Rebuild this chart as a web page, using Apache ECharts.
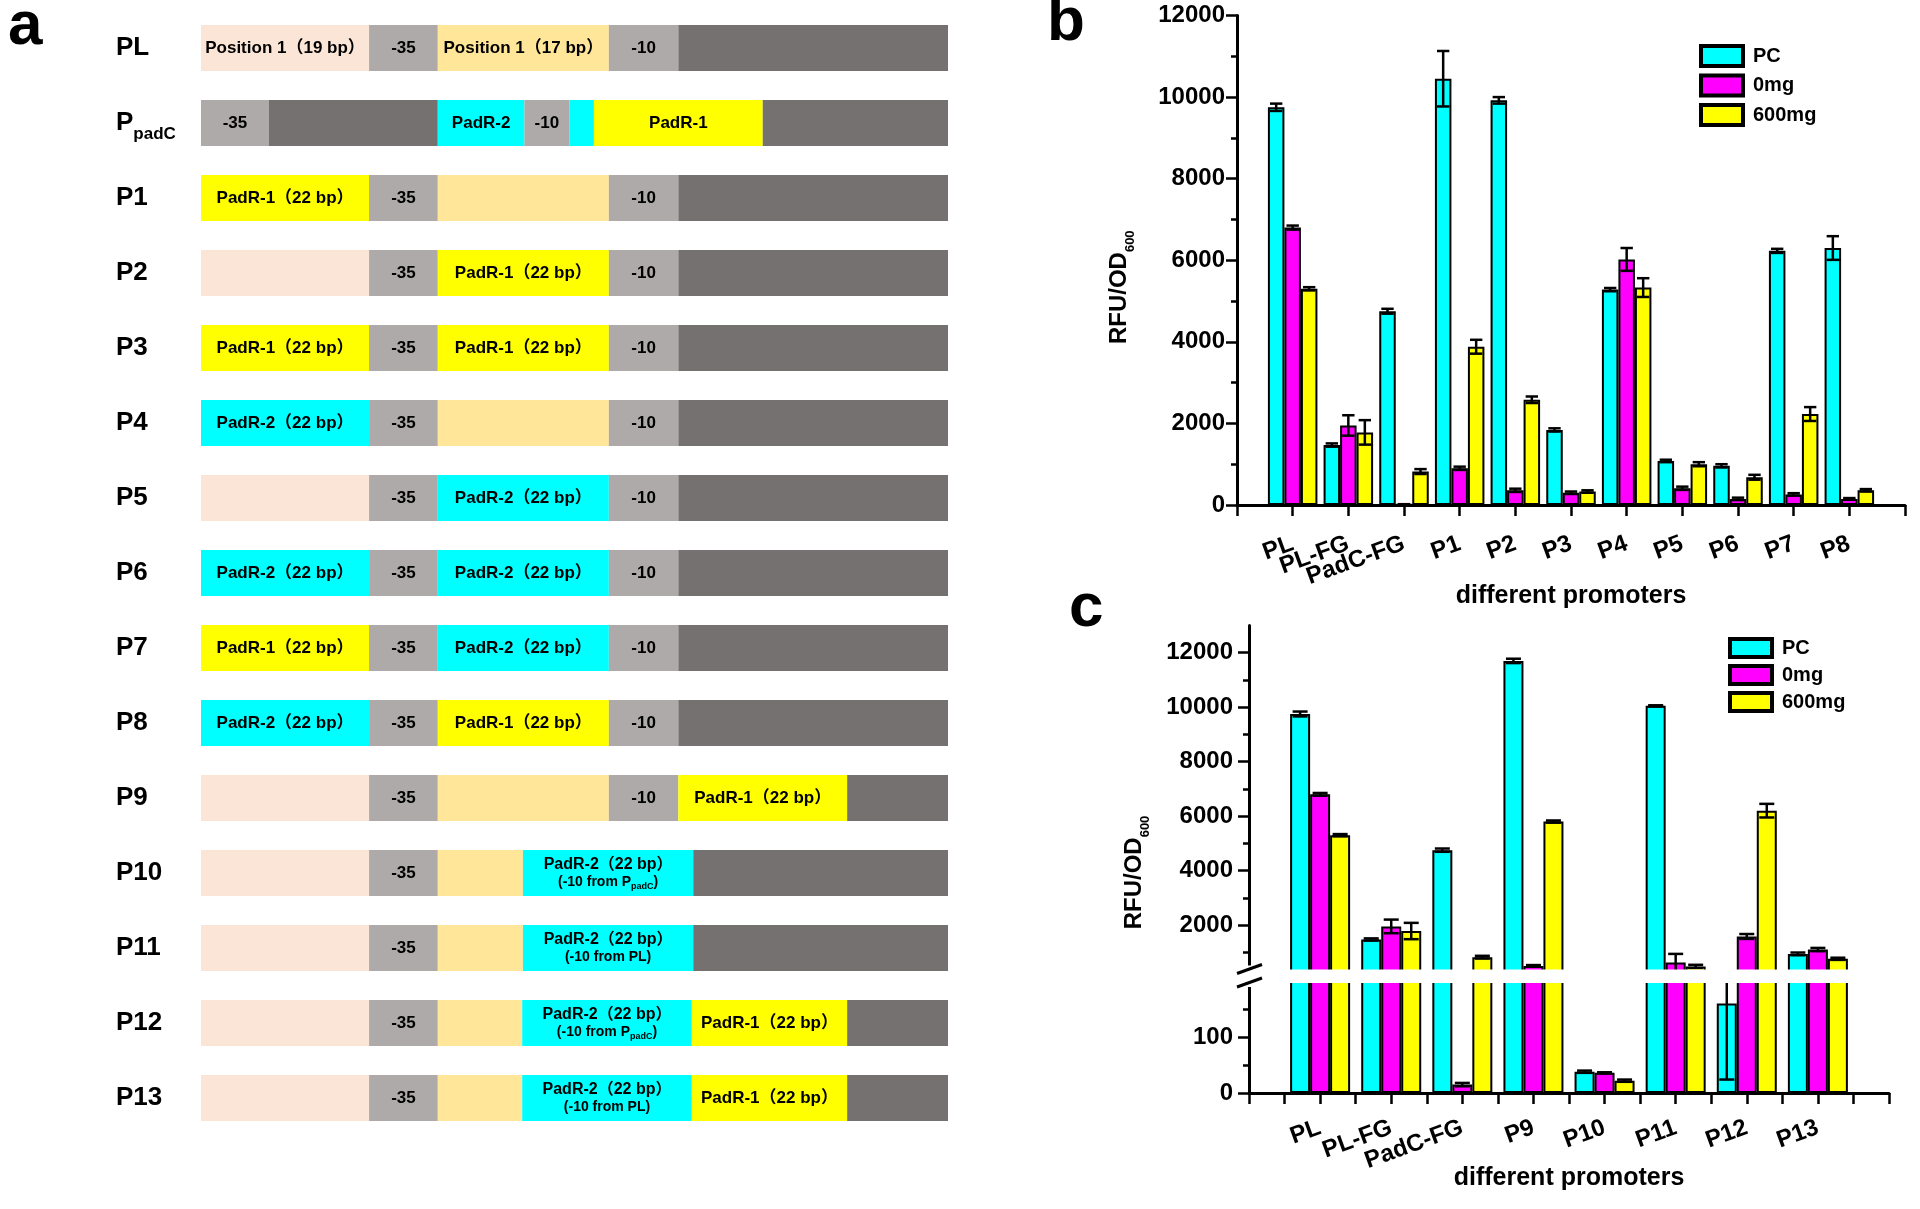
<!DOCTYPE html>
<html>
<head>
<meta charset="utf-8">
<script src="https://cdn.jsdelivr.net/npm/echarts@6.0.0/dist/echarts.min.js"></script>
<style>html,body{margin:0;padding:0;background:#fff;}#main{width:1920px;height:1209px;}</style>
</head>
<body>
<div id="main"></div>
<script>
// ===== Panel a: promoter architecture (track units 0-100) =====
const rowNames = ['PL','PpadC','P1','P2','P3','P4','P5','P6','P7','P8','P9','P10','P11','P12','P13'];
const R1 = 'PadR-1（22 bp）';
const R2 = 'PadR-2（22 bp）';
const R2fromPadC = '{t|PadR-2（22 bp）}\n{u|(-10 from P}{v|padC}{u|)}';
const R2fromPL = '{t|PadR-2（22 bp）}\n{u|(-10 from PL)}';
// [kind, start, end, label]
const segPL    = [['up',0,22.5,'Position 1（19 bp）'],['box',22.5,31.7,'-35'],['sp',31.7,54.6,'Position 1（17 bp）'],['box',54.6,63.9,'-10'],['dk',63.9,100,'']];
const segPpadC = [['box',0,9.1,'-35'],['dk',9.1,31.7,''],['R2',31.7,43.3,'PadR-2'],['box',43.3,49.3,'-10'],['R2',49.3,52.6,''],['R1',52.6,75.2,'PadR-1'],['dk',75.2,100,'']];
const segP1  = [['R1',0,22.5,R1],['box',22.5,31.7,'-35'],['sp',31.7,54.6,''],['box',54.6,63.9,'-10'],['dk',63.9,100,'']];
const segP2  = [['up',0,22.5,''],['box',22.5,31.7,'-35'],['R1',31.7,54.6,R1],['box',54.6,63.9,'-10'],['dk',63.9,100,'']];
const segP3  = [['R1',0,22.5,R1],['box',22.5,31.7,'-35'],['R1',31.7,54.6,R1],['box',54.6,63.9,'-10'],['dk',63.9,100,'']];
const segP4  = [['R2',0,22.5,R2],['box',22.5,31.7,'-35'],['sp',31.7,54.6,''],['box',54.6,63.9,'-10'],['dk',63.9,100,'']];
const segP5  = [['up',0,22.5,''],['box',22.5,31.7,'-35'],['R2',31.7,54.6,R2],['box',54.6,63.9,'-10'],['dk',63.9,100,'']];
const segP6  = [['R2',0,22.5,R2],['box',22.5,31.7,'-35'],['R2',31.7,54.6,R2],['box',54.6,63.9,'-10'],['dk',63.9,100,'']];
const segP7  = [['R1',0,22.5,R1],['box',22.5,31.7,'-35'],['R2',31.7,54.6,R2],['box',54.6,63.9,'-10'],['dk',63.9,100,'']];
const segP8  = [['R2',0,22.5,R2],['box',22.5,31.7,'-35'],['R1',31.7,54.6,R1],['box',54.6,63.9,'-10'],['dk',63.9,100,'']];
const segP9  = [['up',0,22.5,''],['box',22.5,31.7,'-35'],['sp',31.7,54.6,''],['box',54.6,63.9,'-10'],['R1',63.9,86.5,R1],['dk',86.5,100,'']];
const segP10 = [['up',0,22.5,''],['box',22.5,31.7,'-35'],['sp',31.7,43.1,''],['R2',43.1,65.9,R2fromPadC],['dk',65.9,100,'']];
const segP11 = [['up',0,22.5,''],['box',22.5,31.7,'-35'],['sp',31.7,43.1,''],['R2',43.1,65.9,R2fromPL],['dk',65.9,100,'']];
const segP12 = [['up',0,22.5,''],['box',22.5,31.7,'-35'],['sp',31.7,43.0,''],['R2',43.0,65.7,R2fromPadC],['R1',65.7,86.5,R1],['dk',86.5,100,'']];
const segP13 = [['up',0,22.5,''],['box',22.5,31.7,'-35'],['sp',31.7,43.0,''],['R2',43.0,65.7,R2fromPL],['R1',65.7,86.5,R1],['dk',86.5,100,'']];
const rowSegments = [segPL,segPpadC,segP1,segP2,segP3,segP4,segP5,segP6,segP7,segP8,segP9,segP10,segP11,segP12,segP13];

// ===== Panel b =====
const catsB     = ['PL','PL-FG','PadC-FG','P1','P2','P3','P4','P5','P6','P7','P8'];
const pcB       = [9750, 1470, 4750, 10450, 9920, 1840, 5280, 1080, 960, 6230, 6300];
const pcErrB    = [90, 40, 60, 680, 80, 40, 40, 30, 40, 50, 290];
const mg0B      = [6800, 1950, 15, 900, 360, 300, 6020, 410, 150, 260, 150];
const mg0ErrB   = [50, 250, 5, 40, 40, 30, 280, 40, 30, 30, 20];
const mg600B    = [5300, 1780, 820, 3880, 2580, 330, 5330, 1000, 680, 2230, 360];
const mg600ErrB = [40, 300, 60, 170, 80, 30, 230, 50, 60, 170, 30];

// ===== Panel c =====
const catsC     = ['PL','PL-FG','PadC-FG','P9','P10','P11','P12','P13'];
const pcC       = [9750, 1470, 4750, 11700, 38, 10050, 160, 940];
const pcErrC    = [90, 40, 60, 80, 2, 20, 136, 50];
const mg0C      = [6800, 1950, 15, 500, 36, 620, 1580, 1100];
const mg0ErrC   = [50, 250, 3, 30, 1, 320, 90, 60];
const mg600C    = [5300, 1780, 820, 5800, 22, 480, 6200, 760];
const mg600ErrC = [40, 300, 50, 40, 2, 60, 250, 40];

const ticksUpperC = [2000, 4000, 6000, 8000, 10000, 12000];
const minorUpperC = [1000, 3000, 5000, 7000, 9000, 11000];
const ticksLowerC = [0, 100];
const minorLowerC = [50, 150];

const seriesNames = ['PC', '0mg', '600mg'];

// ===== styles =====
const FF = "'Liberation Sans', Arial, Helvetica, 'Noto Sans CJK SC', sans-serif";
const kindColor = {up:'#fbe5d6', sp:'#ffe699', box:'#aeaaaa', dk:'#767171', R1:'#ffff00', R2:'#00ffff'};
const serColors = ['#00ffff', '#ff00ff', '#ffff00'];
const BW_B = 16.5, BW_C = 20;

const pad = arr => ['-'].concat(arr, ['-']);
const padCats = arr => [''].concat(arr, ['']);

const segFlat = [];
rowSegments.forEach((segs, r) => segs.forEach(s => segFlat.push({row:r, kind:s[0], start:s[1], end:s[2], label:s[3]})));

const axisLine = {show:true, onZero:false, lineStyle:{color:'#000', width:3}};
const axisTick = {show:true, length:11, lineStyle:{color:'#000', width:2.5}};
const tickLbl = {fontFamily:FF, fontWeight:'bold', fontSize:24, color:'#000', formatter: v => String(v)};
const catLbl = {fontFamily:FF, fontWeight:'bold', fontSize:24, color:'#000'};
const nameRich = {
  m:{fontFamily:FF, fontWeight:'bold', fontSize:24, lineHeight:36, color:'#000', verticalAlign:'middle'},
  s:{fontFamily:FF, fontWeight:'bold', fontSize:13, lineHeight:13, color:'#000', verticalAlign:'bottom'}
};

function barSeries(k, vals, xi, yi, bw) {
  return {type:'bar', name:seriesNames[k], xAxisIndex:xi, yAxisIndex:yi, data:pad(vals),
    barWidth:bw, barGap:'0%', itemStyle:{color:serColors[k], borderColor:'#000', borderWidth:2},
    emphasis:{disabled:true}, silent:true};
}
function errSeries(k, vals, errs, xi, yi, bw) {
  return {type:'custom', xAxisIndex:xi, yAxisIndex:yi, silent:true, z:5,
    data: vals.map((v,i)=>[i+1, v, errs[i]]), encode:{x:0, y:1},
    renderItem: function(params, api) {
      const cs = params.coordSys;
      const idx = api.value(0), v = api.value(1), e = api.value(2);
      const x = api.coord([idx, v])[0] + (k-1)*bw;
      const yt = api.coord([idx, v+e])[1], yb = api.coord([idx, v-e])[1];
      const top = cs.y, bot = cs.y + cs.height;
      const cap = bw*0.75;
      const st = {stroke:'#000', lineWidth:2.5};
      const ch = [];
      const y1 = Math.max(yt, top), y2 = Math.min(yb, bot);
      if (y2 > y1) ch.push({type:'line', shape:{x1:x, y1:y1, x2:x, y2:y2}, style:st});
      if (yt >= top && yt <= bot) ch.push({type:'line', shape:{x1:x-cap/2, y1:yt, x2:x+cap/2, y2:yt}, style:st});
      if (yb >= top && yb <= bot) ch.push({type:'line', shape:{x1:x-cap/2, y1:yb, x2:x+cap/2, y2:yb}, style:st});
      return {type:'group', children:ch};
    }};
}

const segSeries = {
  type:'custom', xAxisIndex:0, yAxisIndex:0, silent:true,
  data: segFlat.map(s => [s.start, s.row, s.end]), encode:{x:[0,2], y:1},
  renderItem: function(params, api) {
    const s = segFlat[params.dataIndex];
    const p0 = api.coord([api.value(0), api.value(1)]);
    const p1 = api.coord([api.value(2), api.value(1)]);
    const h = api.size([0,1])[1] * 0.615;
    const ch = [{type:'rect', shape:{x:p0[0], y:p0[1]-h/2, width:p1[0]-p0[0], height:h}, style:{fill:kindColor[s.kind]}}];
    if (s.label) ch.push({type:'text', x:(p0[0]+p1[0])/2, y:p0[1], style:{
      text:s.label, align:'center', verticalAlign:'middle', fill:'#000',
      fontFamily:FF, fontWeight:'bold', fontSize:17,
      rich:{
        t:{fontFamily:FF, fontWeight:'bold', fontSize:16, lineHeight:19, fill:'#000'},
        u:{fontFamily:FF, fontWeight:'bold', fontSize:14, lineHeight:17, fill:'#000', verticalAlign:'middle'},
        v:{fontFamily:FF, fontWeight:'bold', fontSize:9, lineHeight:9, fill:'#000', verticalAlign:'bottom'}
      }}});
    return {type:'group', children:ch};
  }
};

const legendCommon = {orient:'vertical', icon:'rect', padding:0, data:seriesNames,
  selectedMode:false, itemStyle:{borderColor:'#000', borderWidth:4},
  textStyle:{fontFamily:FF, fontWeight:'bold', fontSize:20, color:'#000', padding:[0,0,0,5]}};

const option = {
  animation:false,
  backgroundColor:'#fff',
  grid:[
    {left:201, top:10.5, width:747, height:1125, outerBoundsMode:'none'},
    {left:1237, top:15.5, width:668, height:489.5, outerBoundsMode:'none'},
    {left:1249, top:625.5, width:640, height:354, outerBoundsMode:'none'},
    {left:1249, top:981, width:640, height:112, outerBoundsMode:'none'}
  ],
  xAxis:[
    {gridIndex:0, type:'value', min:0, max:100, show:false},
    {gridIndex:1, type:'category', position:'bottom', data:padCats(catsB), boundaryGap:false, axisLine:axisLine,
      axisTick:Object.assign({interval:0}, axisTick),
      axisLabel:Object.assign({interval:0, rotate:20, margin:38}, catLbl),
      name:'different promoters', nameLocation:'middle', nameGap:79, nameMoveOverlap:false,
      nameTextStyle:{fontFamily:FF, fontWeight:'bold', fontSize:25, color:'#000'}},
    {gridIndex:2, type:'category', position:'bottom', data:padCats(catsC), boundaryGap:false, show:false},
    {gridIndex:3, type:'category', position:'bottom', data:padCats(catsC), boundaryGap:false, axisLine:axisLine,
      axisTick:Object.assign({interval:0}, axisTick),
      axisLabel:Object.assign({interval:0, rotate:20, margin:34}, catLbl),
      name:'different promoters', nameLocation:'middle', nameGap:73, nameMoveOverlap:false,
      nameTextStyle:{fontFamily:FF, fontWeight:'bold', fontSize:25, color:'#000'}},
    {gridIndex:3, type:'value', position:'bottom', offset:0, min:0, max:9, interval:0.5, axisLine:{show:false},
      axisTick:axisTick, axisLabel:{show:false}, splitLine:{show:false}}
  ],
  yAxis:[
    {gridIndex:0, type:'category', data:rowNames, inverse:true, axisLine:{show:false}, axisTick:{show:false},
      axisLabel:{align:'left', margin:85,
        formatter: v => v === 'PpadC' ? '{m|P}{s|padC}' : '{m|' + v + '}',
        rich:{
          m:{fontFamily:FF, fontWeight:'bold', fontSize:26, lineHeight:40, color:'#000', verticalAlign:'middle'},
          s:{fontFamily:FF, fontWeight:'bold', fontSize:17, lineHeight:17, color:'#000', verticalAlign:'bottom'}
        }}},
    {gridIndex:1, type:'value', position:'left', min:0, max:12000, interval:2000, axisLine:axisLine, axisTick:axisTick,
      minorTick:{show:true, splitNumber:2, length:6, lineStyle:{color:'#000', width:2.5}},
      splitLine:{show:false}, minorSplitLine:{show:false},
      axisLabel:Object.assign({margin:12}, tickLbl),
      name:'{m|RFU/OD}{s|600}', nameLocation:'middle', nameGap:100, nameMoveOverlap:false,
      nameTextStyle:{rich:nameRich, padding:[0,54,0,0]}},
    {gridIndex:2, type:'value', position:'left', offset:0, min:0, max:13000, axisLine:axisLine,
      axisTick:Object.assign({customValues:ticksUpperC}, axisTick),
      axisLabel:Object.assign({margin:16, customValues:ticksUpperC}, tickLbl),
      splitLine:{show:false},
      name:'{m|RFU/OD}{s|600}', nameLocation:'middle', nameGap:97, nameMoveOverlap:false,
      nameTextStyle:{rich:nameRich, padding:[0,140,0,0]}},
    {gridIndex:2, type:'value', position:'left', offset:0, min:0, max:13000, axisLine:{show:false},
      axisTick:{show:true, length:6, customValues:minorUpperC, lineStyle:{color:'#000', width:2.5}},
      axisLabel:{show:false}, splitLine:{show:false}},
    {gridIndex:3, type:'value', position:'left', offset:0, min:0, max:200, axisLine:axisLine,
      axisTick:Object.assign({customValues:ticksLowerC}, axisTick),
      axisLabel:Object.assign({margin:16, customValues:ticksLowerC}, tickLbl),
      splitLine:{show:false}},
    {gridIndex:3, type:'value', position:'left', offset:0, min:0, max:200, axisLine:{show:false},
      axisTick:{show:true, length:6, customValues:minorLowerC, lineStyle:{color:'#000', width:2.5}},
      axisLabel:{show:false}, splitLine:{show:false}}
  ],
  legend:[
    Object.assign({left:1699, top:44, itemWidth:42, itemHeight:20, itemGap:5.5}, legendCommon),
    Object.assign({left:1728, top:637, itemWidth:42, itemHeight:18, itemGap:5}, legendCommon)
  ],
  series:[
    segSeries,
    barSeries(0, pcB, 1, 1, BW_B), barSeries(1, mg0B, 1, 1, BW_B), barSeries(2, mg600B, 1, 1, BW_B),
    errSeries(0, pcB, pcErrB, 1, 1, BW_B), errSeries(1, mg0B, mg0ErrB, 1, 1, BW_B), errSeries(2, mg600B, mg600ErrB, 1, 1, BW_B),
    barSeries(0, pcC, 2, 2, BW_C), barSeries(1, mg0C, 2, 2, BW_C), barSeries(2, mg600C, 2, 2, BW_C),
    errSeries(0, pcC, pcErrC, 2, 2, BW_C), errSeries(1, mg0C, mg0ErrC, 2, 2, BW_C), errSeries(2, mg600C, mg600ErrC, 2, 2, BW_C),
    barSeries(0, pcC, 3, 4, BW_C), barSeries(1, mg0C, 3, 4, BW_C), barSeries(2, mg600C, 3, 4, BW_C),
    errSeries(0, pcC, pcErrC, 3, 4, BW_C), errSeries(1, mg0C, mg0ErrC, 3, 4, BW_C), errSeries(2, mg600C, mg600ErrC, 3, 4, BW_C)
  ]
};

const chart = echarts.init(document.getElementById('main'), null, {renderer:'canvas'});
chart.setOption(option);

// axis break for panel c, located through the axes
const zeroUpper = chart.convertToPixel({xAxisIndex:2, yAxisIndex:2}, [1, 0]);
const topLower = chart.convertToPixel({xAxisIndex:3, yAxisIndex:4}, [1, 200]);
const axisX = chart.convertToPixel({xAxisIndex:3, yAxisIndex:4}, [0, 0])[0];
const endX = chart.convertToPixel({xAxisIndex:3, yAxisIndex:4}, [9, 0])[0];
const bandTop = zeroUpper[1] - 10, bandBot = topLower[1] + 2;
const lbl = (t, x, y) => ({type:'text', left:x, top:y, z:100, style:{text:t, fontFamily:FF, fontWeight:'bold', fontSize:62, fill:'#000'}});
chart.setOption({graphic:[
  {type:'rect', z:100, shape:{x:axisX+2, y:bandTop, width:endX-axisX, height:bandBot-bandTop}, style:{fill:'#fff'}},
  {type:'rect', z:100, shape:{x:axisX-4, y:bandTop-4, width:8, height:bandBot-bandTop+8}, style:{fill:'#fff'}},
  {type:'line', z:101, shape:{x1:axisX-12, y1:bandTop+4, x2:axisX+13, y2:bandTop-5}, style:{stroke:'#000', lineWidth:3}},
  {type:'line', z:101, shape:{x1:axisX-12, y1:bandBot+4, x2:axisX+13, y2:bandBot-5}, style:{stroke:'#000', lineWidth:3}},
  lbl('a', 8, -4), lbl('b', 1047, -8), lbl('c', 1069, 578)
]});
</script>
</body>
</html>
